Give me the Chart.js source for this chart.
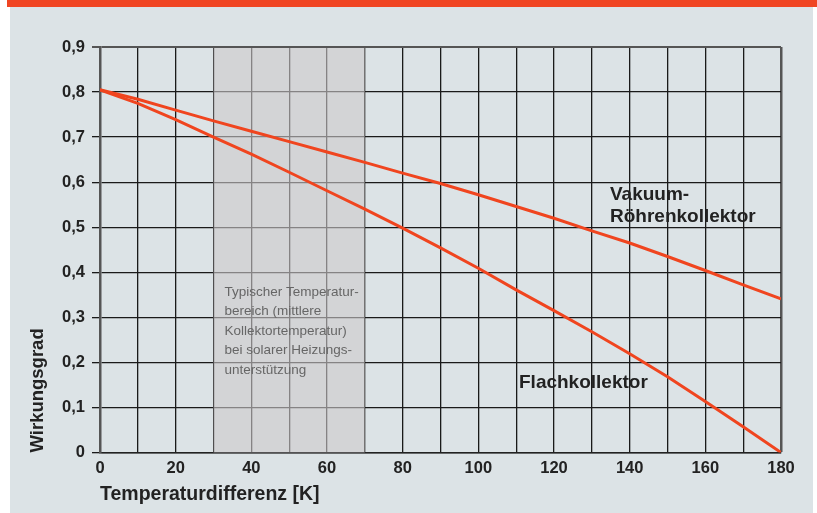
<!DOCTYPE html>
<html>
<head>
<meta charset="utf-8">
<script src="https://cdn.jsdelivr.net/npm/chart.js@4"></script>
<style>
  body { margin: 0; background: #fff; }
  #wrap { width: 817px; height: 513px; }
</style>
</head>
<body>
<div id="wrap"><canvas id="chart" width="817" height="513"></canvas></div>
<script>
const temps = [0, 10, 20, 30, 40, 50, 60, 70, 80, 90, 100, 110, 120, 130, 140, 150, 160, 170, 180];
const vakuum = [0.805, 0.784, 0.760, 0.736, 0.713, 0.690, 0.667, 0.644, 0.620, 0.597, 0.572, 0.546, 0.520, 0.492, 0.465, 0.435, 0.404, 0.372, 0.341];
const flach = [0.805, 0.775, 0.739, 0.700, 0.662, 0.622, 0.581, 0.540, 0.498, 0.454, 0.409, 0.361, 0.315, 0.268, 0.219, 0.168, 0.113, 0.057, 0];
const bandRange = [30, 70];
const bandText = ['Typischer Temperatur-', 'bereich (mittlere', 'Kollektortemperatur)', 'bei solarer Heizungs-', 'unterstützung'];

const red = '#f0451f';
const font = 'Liberation Sans, Arial, sans-serif';

// background, orange top strip, shaded band and the text labels
const decor = {
  id: 'decor',
  beforeDraw(chart) {
    const ctx = chart.ctx;
    ctx.save();
    ctx.fillStyle = '#dce3e6';
    ctx.fillRect(10, 0, 803, 513);
    ctx.fillStyle = '#f04523';
    ctx.fillRect(7, 0, 810, 7);
    ctx.restore();
  },
  beforeDatasetsDraw(chart) {
    const { ctx, chartArea, scales } = chart;
    const x0 = scales.x.getPixelForValue(bandRange[0]);
    const x1 = scales.x.getPixelForValue(bandRange[1]);
    ctx.save();
    ctx.fillStyle = 'rgba(205, 202, 203, 0.6)';
    ctx.fillRect(x0, chartArea.top + 1, x1 - x0, chartArea.bottom - chartArea.top - 1);
    ctx.fillStyle = '#666';
    ctx.font = '13.5px ' + font;
    ctx.textBaseline = 'middle';
    bandText.forEach((t, i) => ctx.fillText(t, x0 + 11, 292 + i * 19.5));

    ctx.fillStyle = '#222';
    ctx.font = 'bold 19px ' + font;
    ctx.fillText('Vakuum-', 610, 195);
    ctx.fillText('Röhrenkollektor', 610, 217);
    ctx.fillText('Flachkollektor', 519, 383);
    ctx.restore();
  }
};

new Chart(document.getElementById('chart'), {
  type: 'line',
  data: {
    datasets: [{
      label: 'Vakuum-Röhrenkollektor',
      data: temps.map((t, i) => ({ x: t, y: vakuum[i] })),
      borderColor: red,
      borderWidth: 3,
      pointRadius: 0
    }, {
      label: 'Flachkollektor',
      data: temps.map((t, i) => ({ x: t, y: flach[i] })),
      borderColor: red,
      borderWidth: 3,
      pointRadius: 0
    }]
  },
  options: {
    responsive: false,
    animation: false,
    layout: { padding: { left: 0, top: 47, right: 36, bottom: 7 } },
    plugins: {
      legend: { display: false },
      tooltip: { enabled: false }
    },
    scales: {
      x: {
        type: 'linear',
        min: 0,
        max: 180,
        afterFit: s => { s.height = 53.5; },
        border: { display: true, color: '#222', width: 1.5 },
        grid: {
          drawTicks: false,
          color: c => c.index === 18 ? '#555' : '#1a1a1a',
          lineWidth: c => c.index === 18 ? 2.5 : 1.3
        },
        ticks: {
          stepSize: 10,
          padding: 6,
          color: '#222',
          font: { family: font, size: 16.5, weight: 'bold' },
          callback: v => v % 20 === 0 ? String(v) : ''
        },
        title: {
          display: true,
          text: 'Temperaturdifferenz [K]',
          align: 'start',
          color: '#222',
          padding: 0,
          font: { family: font, size: 19.5, weight: 'bold' }
        }
      },
      y: {
        min: 0,
        max: 0.9,
        afterFit: s => { s.width = 100; },
        border: { display: true, color: '#555', width: 2.5 },
        grid: {
          drawTicks: true,
          tickLength: 8,
          color: c => c.index === 9 ? '#555' : '#1a1a1a',
          lineWidth: c => c.index === 9 ? 2 : 1.3
        },
        ticks: {
          stepSize: 0.1,
          padding: 7,
          color: '#222',
          font: { family: font, size: 16.5, weight: 'bold' },
          callback: v => {
            const r = Math.round(v * 10) / 10;
            return r === 0 ? '0' : r.toFixed(1).replace('.', ',');
          }
        },
        title: {
          display: true,
          text: 'Wirkungsgrad',
          align: 'start',
          color: '#222',
          padding: { top: 27, bottom: 0 },
          font: { family: font, size: 18.5, weight: 'bold' }
        }
      }
    }
  },
  plugins: [decor]
});
</script>
</body>
</html>
